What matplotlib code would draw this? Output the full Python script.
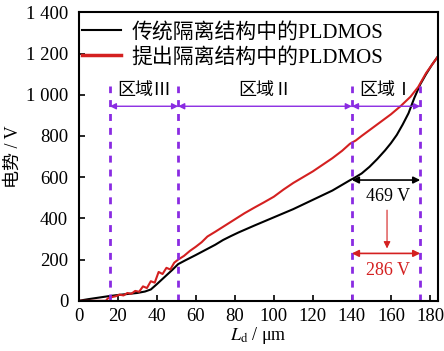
import numpy as np
import matplotlib
matplotlib.use("Agg")
import matplotlib.pyplot as plt
from matplotlib.ticker import FuncFormatter

plt.rcParams['font.family'] = ['Liberation Serif', 'Noto Sans CJK SC', 'DejaVu Sans']
plt.rcParams['mathtext.fontset'] = 'stix'

# Dados
x_conv = [0, 5, 10, 15, 20, 25, 30, 34, 37, 40, 44, 48, 51, 55, 60, 65, 70, 74, 78, 82,
          90, 100, 110, 120, 130, 139, 141, 145, 149, 153, 157, 160, 163, 166, 169,
          172, 175, 178, 181, 184]
v_conv = [0, 8, 15, 22, 28, 33, 38, 45, 55, 80, 115, 150, 178, 198, 222, 247, 272, 295, 314, 332,
          365, 405, 445, 490, 535, 585, 595, 618, 650, 688, 730, 765, 805, 855, 910,
          985, 1050, 1100, 1145, 1185]

x_prop = [0, 5, 10, 14, 15, 17, 19, 21, 23, 25, 27, 29, 31, 33, 35, 37, 39, 41, 43, 45,
          47, 49, 51, 54, 57, 60, 63, 66, 70, 75, 80, 85, 90, 95, 100, 105, 110, 115,
          120, 125, 130, 135, 139, 142, 145, 150, 155, 160, 165, 170, 174, 178, 181, 184]
v_prop = [0, 0, 0, 0, 12, 18, 22, 30, 26, 38, 34, 48, 44, 70, 62, 95, 88, 140, 130, 160,
          152, 185, 200, 218, 242, 262, 284, 312, 335, 365, 395, 425, 452, 478, 505, 540,
          572, 600, 628, 660, 692, 728, 762, 778, 800, 835, 870, 905, 945, 990, 1038,
          1105, 1145, 1185]

labels = ['传统隔离结构中的PLDMOS', '提出隔离结构中的PLDMOS']
region_edges = [16, 51, 140, 175]
region_names = ['区域Ⅲ', '区域Ⅱ', '区域Ⅰ']
v_conv_region1 = 469
v_prop_region1 = 286

purple = '#8a2be2'
red = '#d42020'

fig = plt.figure(figsize=(4.44, 3.51), dpi=100)
ax = fig.add_axes([0.177, 0.143, 0.809, 0.822])

ax.plot(x_conv, v_conv, color='black', lw=1.5, label=labels[0])
ax.plot(x_prop, v_prop, color=red, lw=1.5, label=labels[1])

# Linhas tracejadas das regiões
for xe in region_edges:
    ax.plot([xe, xe], [0, 1040], color=purple, lw=2, ls=(0, (2.5, 2.5)))

# Setas entre as regiões
y_arr = 944
for a, b, name in zip(region_edges[:-1], region_edges[1:], region_names):
    ax.annotate('', xy=(b, y_arr), xytext=(a, y_arr),
                arrowprops=dict(arrowstyle='<|-|>', color=purple, lw=1.0,
                                mutation_scale=9, shrinkA=0, shrinkB=0))
    ax.text((a + b) / 2, 1022, name, ha='center', va='center', fontsize=13)

# Setas de tensão na região I
ax.annotate('', xy=(175, 586), xytext=(140, 586),
            arrowprops=dict(arrowstyle='<|-|>', color='black', lw=1.2,
                            mutation_scale=10, shrinkA=0, shrinkB=0))
ax.text(158.5, 505, f'{v_conv_region1} V', ha='center', va='center', fontsize=13)
ax.annotate('', xy=(158, 254), xytext=(158, 440),
            arrowprops=dict(arrowstyle='-|>', color=red, lw=0.8,
                            mutation_scale=10, shrinkA=0, shrinkB=0))
ax.annotate('', xy=(175, 230), xytext=(140, 230),
            arrowprops=dict(arrowstyle='<|-|>', color=red, lw=1.2,
                            mutation_scale=10, shrinkA=0, shrinkB=0))
ax.text(158.5, 149, f'{v_prop_region1} V', ha='center', va='center', fontsize=13,
        color=red)

ax.set_xlim(0, 184)
ax.set_ylim(0, 1400)
ax.set_xticks(np.arange(0, 181, 20))
ax.set_yticks(np.arange(0, 1401, 200))
ax.yaxis.set_major_formatter(FuncFormatter(
    lambda v, p: f'{int(v):,}'.replace(',', ' ')))
ax.tick_params(direction='in', length=4, width=1.2, labelsize=13.5)
ax.tick_params(axis='y', pad=7.5)
ax.tick_params(axis='x', pad=5)
for s in ax.spines.values():
    s.set_linewidth(1.5)

ax.set_xlabel(r'$L_\mathrm{d}$ / μm', fontsize=13, labelpad=0)
ax.set_ylabel('电势 / V', fontsize=13, labelpad=3)

leg = ax.legend(loc='upper left', frameon=False, fontsize=15, handlelength=1.9,
                bbox_to_anchor=(0.0, 0.975), borderaxespad=0.0, borderpad=0.15,
                labelspacing=0.25, handletextpad=0.5)
leg.get_lines()[1].set_linewidth(2.5)

fig.savefig('out.png', dpi=100)
